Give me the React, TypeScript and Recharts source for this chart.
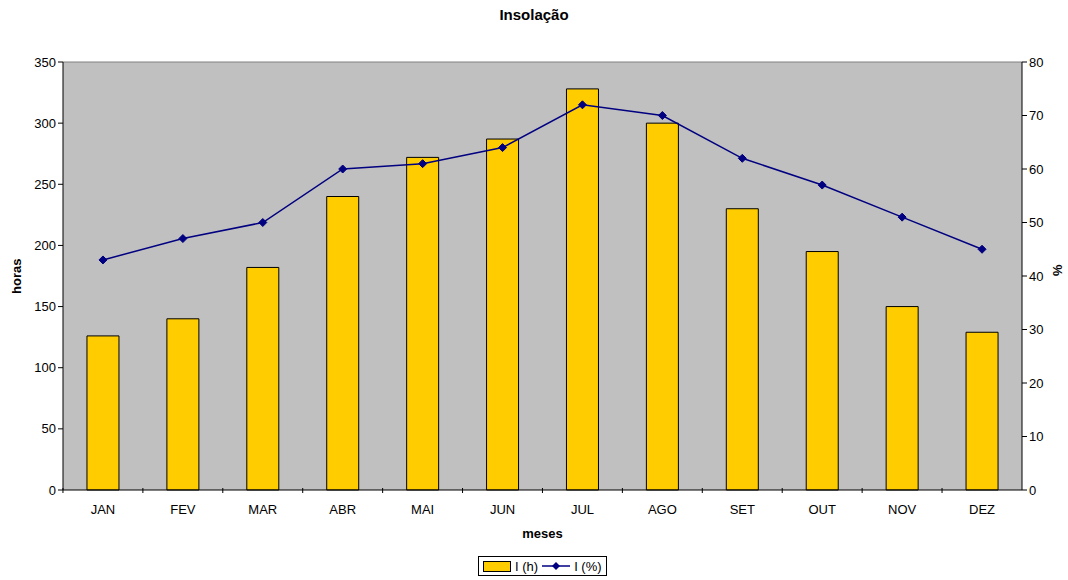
import React from "react";
import {
  ComposedChart,
  Bar,
  Line,
  XAxis,
  YAxis,
  CartesianGrid,
  ReferenceLine,
  Legend,
} from "recharts";

// monthly sunshine: hours and percentage of possible
const meses = ["JAN", "FEV", "MAR", "ABR", "MAI", "JUN", "JUL", "AGO", "SET", "OUT", "NOV", "DEZ"];
const horas = [126, 140, 182, 240, 272, 287, 328, 300, 230, 195, 150, 129];
const percentagem = [43, 47, 50, 60, 61, 64, 72, 70, 62, 57, 51, 45];
const ticksHoras = [0, 50, 100, 150, 200, 250, 300, 350];
const ticksPct = [0, 10, 20, 30, 40, 50, 60, 70, 80];

const data = meses.map((m, i) => ({ mes: m, h: horas[i], pct: percentagem[i] }));

const FONT = "'Liberation Sans', Arial, sans-serif";
const NAVY = "#000080";

const Diamond = (props: any) => {
  const { cx, cy } = props;
  if (cx == null || cy == null) return null;
  const r = 4;
  return (
    <polygon
      points={`${cx},${cy - r} ${cx + r},${cy} ${cx},${cy + r} ${cx - r},${cy}`}
      fill={NAVY}
      stroke={NAVY}
    />
  );
};

// category label plus a tick mark on the boundary between months
const MonthTick = (props: any) => {
  const { x, y, payload } = props;
  const half = 40;
  return (
    <g>
      <line x1={x - half} y1={y - 10} x2={x - half} y2={y - 5} stroke="#000" />
      <text x={x} y={y + 16} textAnchor="middle" fontSize={13} fill="#000" fontFamily={FONT}>
        {payload.value}
      </text>
    </g>
  );
};

const LegendBox = () => (
  <div
    style={{
      display: "flex",
      alignItems: "center",
      border: "1px solid #000",
      background: "#fff",
      padding: "1px 4px",
      fontFamily: FONT,
      fontSize: 13,
      height: 20,
      boxSizing: "border-box",
    }}
  >
    <span
      style={{
        display: "inline-block",
        width: 26,
        height: 9,
        background: "#FFCC00",
        border: "1px solid #000",
        marginRight: 4,
      }}
    />
    <span style={{ marginRight: 4 }}>I (h)</span>
    <svg width={28} height={10} style={{ marginRight: 4 }}>
      <line x1={0} y1={5} x2={28} y2={5} stroke={NAVY} strokeWidth={1.5} />
      <polygon points="14,1 18,5 14,9 10,5" fill={NAVY} />
    </svg>
    <span>I (%)</span>
  </div>
);

export default function App() {
  return (
    <div style={{ position: "absolute", left: 0, top: 0, width: 1068, height: 580, background: "#fff" }}>
      <div
        style={{
          position: "absolute",
          top: 6,
          width: 1068,
          textAlign: "center",
          fontFamily: FONT,
          fontWeight: "bold",
          fontSize: 15,
        }}
      >
        Insolação
      </div>
      <ComposedChart
        width={1068}
        height={580}
        data={data}
        margin={{ top: 62, left: 18, right: 6, bottom: 40 }}
        barCategoryGap="30%"
      >
        <CartesianGrid horizontal={false} vertical={false} fill="#C0C0C0" />
        <XAxis
          dataKey="mes"
          tick={<MonthTick />}
          tickLine={false}
          axisLine={{ stroke: "#000" }}
          height={30}
          interval={0}
          label={{ value: "meses", position: "insideBottom", offset: -18, fontSize: 13, fontWeight: "bold", fill: "#000", fontFamily: FONT }}
        />
        <YAxis
          yAxisId="h"
          domain={[0, 350]}
          ticks={ticksHoras}
          width={45}
          tickSize={5}
          tickLine={{ stroke: "#000" }}
          axisLine={{ stroke: "#000" }}
          tick={{ fontSize: 13, fill: "#000", fontFamily: FONT }}
          label={{ value: "horas", angle: -90, position: "insideLeft", offset: -2, fontSize: 13, fontWeight: "bold", fill: "#000", fontFamily: FONT, dy: 18 }}
        />
        <YAxis
          yAxisId="p"
          orientation="right"
          domain={[0, 80]}
          ticks={ticksPct}
          width={40}
          tickSize={5}
          tickLine={{ stroke: "#000" }}
          axisLine={{ stroke: "#000" }}
          tick={{ fontSize: 13, fill: "#000", fontFamily: FONT }}
          label={{ value: "%", angle: 90, position: "insideRight", offset: 4, fontSize: 13, fontWeight: "bold", fill: "#000", fontFamily: FONT }}
        />
        <ReferenceLine yAxisId="h" y={350} stroke="#808080" />
        <Bar
          yAxisId="h"
          dataKey="h"
          name="I (h)"
          fill="#FFCC00"
          stroke="#000"
          strokeWidth={1}
          isAnimationActive={false}
        />
        <Line
          yAxisId="p"
          dataKey="pct"
          name="I (%)"
          type="linear"
          stroke={NAVY}
          strokeWidth={1.5}
          dot={<Diamond />}
          activeDot={false}
          isAnimationActive={false}
        />
        <Legend
          content={<LegendBox />}
          wrapperStyle={{ position: "absolute", left: 478, top: 556, width: "auto" }}
        />
      </ComposedChart>
    </div>
  );
}
